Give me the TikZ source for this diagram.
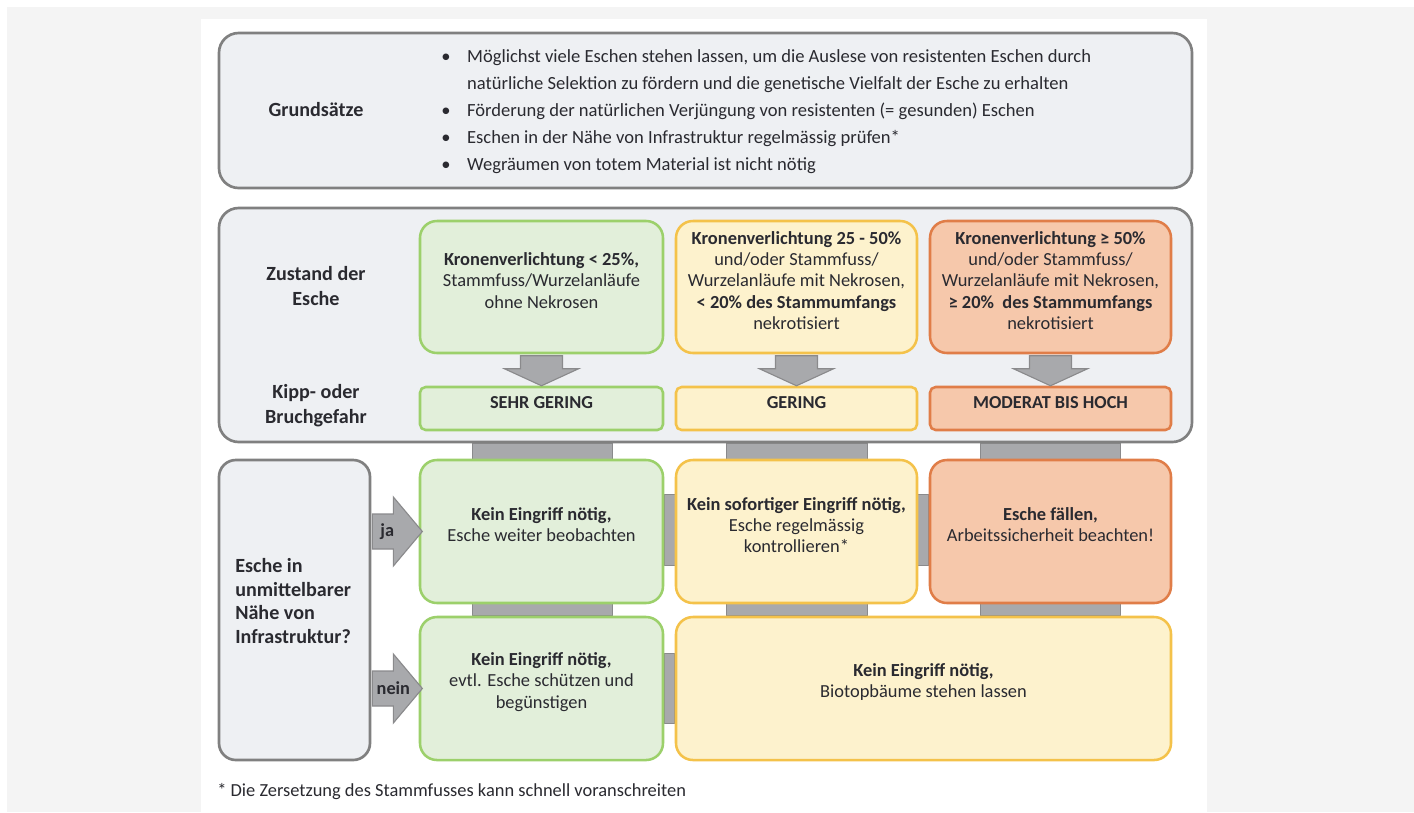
\documentclass[tikz,border=0pt]{standalone}
\usepackage{fontspec}
\setmainfont{Carlito}
\usetikzlibrary{fit, calc, backgrounds}
\definecolor{bggray}{HTML}{F4F4F4}
\definecolor{panelgray}{HTML}{EEF0F3}
\definecolor{framegray}{HTML}{808080}
\definecolor{greenfill}{HTML}{E2EFDA}
\definecolor{greenline}{HTML}{9CD06B}
\definecolor{yellowfill}{HTML}{FDF2CD}
\definecolor{yellowline}{HTML}{F4C24A}
\definecolor{redfill}{HTML}{F6C8AB}
\definecolor{redline}{HTML}{E07D48}
\definecolor{bargray}{HTML}{A8A9AC}
\definecolor{arrowline}{HTML}{8A8A8C}
\definecolor{inkgray}{HTML}{2A2A30}
\tikzstyle{bigframe} = [rectangle, rounded corners=14pt, draw=framegray, fill=panelgray, line width=1.9pt, inner sep=0pt]
\tikzstyle{greenbox} = [rectangle, rounded corners=12pt, draw=greenline, fill=greenfill, line width=1.8pt, inner sep=0pt, align=center]
\tikzstyle{yellowbox} = [greenbox, draw=yellowline, fill=yellowfill]
\tikzstyle{redbox} = [greenbox, draw=redline, fill=redfill]
\tikzstyle{riskbox} = [rounded corners=4pt, font=\fontsize{13}{15}\selectfont\bfseries]
\tikzstyle{rowtitle} = [align=center, font=\fontsize{14.3}{17.6}\selectfont\bfseries]
\tikzstyle{bigarrow} = [fill=bargray, draw=arrowline, line width=0.8pt, line join=miter]
\tikzstyle{band} = [fill=bargray, draw=arrowline, line width=0.5pt]

\begin{document}
\begin{tikzpicture}[x=0.025cm, y=-0.025cm, text=inkgray, font=\fontsize{13.1}{15}\selectfont]
\useasboundingbox (0,0) rectangle (1414,812);
% Background and panel
\begin{scope}[on background layer]
\fill[bggray] (7,7) rectangle (1414,812);
\fill[white] (201,19) rectangle (1207,812);
\end{scope}

% Placement of frames
\node (rules) [bigframe, fit={(219,33) (1192,188)}] {};
\node (state) [bigframe, fit={(219,208) (1192,442)}] {};
\node (ask) [bigframe, rounded corners=12pt, fit={(219,460) (370,760)}] {};

% Row titles
\node (rulesTitle) [rowtitle] at (316,110) {Grundsätze};
\node (stateTitle) [rowtitle] at (316,286) {Zustand der\\Esche};
\node (riskTitle) [rowtitle] at (316,406) {Kipp- oder\\Bruchgefahr};
\node (askTitle) [anchor=west, align=left, inner sep=0pt, font=\fontsize{14.3}{17}\selectfont\bfseries] at (235,601) {Esche in\\unmittelbarer\\Nähe von\\Infrastruktur?};

% Principles
\newcommand\bul{\makebox[18.4pt][l]{\textbullet}}
\newcommand\nobul{\hspace*{18.4pt}}
\node (rulesList) [anchor=west, align=left, inner sep=0pt, font=\fontsize{13.2}{19.3}\selectfont] at (441,111.5) {\bul Möglichst viele Eschen stehen lassen, um die Auslese von resistenten Eschen durch\\
\nobul natürliche Selektion zu fördern und die genetische Vielfalt der Esche zu erhalten\\
\bul Förderung der natürlichen Verjüngung von resistenten (= gesunden) Eschen\\
\bul Eschen in der Nähe von Infrastruktur regelmässig prüfen*\\
\bul Wegräumen von totem Material ist nicht nötig};

% Condition of the tree
\node (cond1) [greenbox, fit={(420,221) (663,353)}] {\textbf{Kronenverlichtung < 25\%,}\\Stammfuss/Wurzelanläufe\\ohne Nekrosen};
\node (cond2) [yellowbox, fit={(676,221) (917,353)}] {\textbf{Kronenverlichtung 25 - 50\%}\\und/oder Stammfuss/\\Wurzelanläufe mit Nekrosen,\\\textbf{< 20\% des Stammumfangs}\\nekrotisiert};
\node (cond3) [redbox, fit={(930,221) (1171,353)}] {\textbf{Kronenverlichtung ≥ 50\%}\\und/oder Stammfuss/\\Wurzelanläufe mit Nekrosen,\\\textbf{≥ 20\%\ \ des Stammumfangs}\\nekrotisiert};

% Risk of tipping or breaking
\node (risk1) [greenbox, riskbox, fit={(420,387) (663,430)}] {SEHR GERING};
\node (risk2) [yellowbox, riskbox, fit={(676,387) (917,430)}] {GERING};
\node (risk3) [redbox, riskbox, fit={(930,387) (1171,430)}] {MODERAT BIS HOCH};

% Measures
\node (act1a) [greenbox, fit={(420,460) (663,603)}] {\textbf{Kein Eingriff nötig,}\\Esche weiter beobachten};
\node (act1b) [yellowbox, fit={(676,460) (917,603)}] {\textbf{Kein sofortiger Eingriff nötig,}\\Esche regelmässig\\kontrollieren*};
\node (act1c) [redbox, fit={(930,460) (1171,603)}] {\textbf{Esche fällen,}\\Arbeitssicherheit beachten!};
\node (act2a) [greenbox, fit={(420,617) (663,760)}] {\textbf{Kein Eingriff nötig,}\\evtl. Esche schützen und\\begünstigen};
\node (act2b) [yellowbox, fit={(676,617) (1171,760)}] {\textbf{Kein Eingriff nötig,}\\Biotopbäume stehen lassen};

% Footnote
\node (note) [anchor=west, inner sep=0pt] at (217,792) {* Die Zersetzung des Stammfusses kann schnell voranschreiten};

% Gray bands behind the measures
\begin{scope}[on background layer]
\draw[band] ($(risk1 |- state.south)+(-69,0)$) rectangle ($(act2a.north)+(71,0)$);
\draw[band] ($(risk2 |- state.south)+(-70,0)$) rectangle ($(risk2 |- act2b.north)+(71,0)$);
\draw[band] ($(risk3 |- state.south)+(-70,0)$) rectangle ($(risk3 |- act2b.north)+(70,0)$);
\draw[band] ($(act1a.east)+(0,-37)$) rectangle ($(act1c.west)+(0,34)$);
\draw[band] ($(act2a.east)+(0,-35)$) rectangle ($(act2b.west)+(0,35)$);
\end{scope}

% Down arrows
\draw[bigarrow] (cond1.south) ++(-21,1.5) -- ++(0,13) -- ++(-16,0) -- ++(37,17) -- ++(37,-17) -- ++(-16,0) -- ++(0,-13) -- cycle;
\draw[bigarrow] (cond2.south) ++(-21,1.5) -- ++(0,13) -- ++(-16,0) -- ++(37,17) -- ++(37,-17) -- ++(-16,0) -- ++(0,-13) -- cycle;
\draw[bigarrow] (cond3.south) ++(-21,1.5) -- ++(0,13) -- ++(-16,0) -- ++(37,17) -- ++(37,-17) -- ++(-16,0) -- ++(0,-13) -- cycle;

% Yes / no arrows
\draw[bigarrow] (ask.east |- act1a.west) ++(1,-17.5) -- ++(21,0) -- ++(0,-17) -- ++(29,34.5) -- ++(-29,34.5) -- ++(0,-17) -- ++(-21,0) -- cycle;
\draw[bigarrow] (ask.east |- act2a.west) ++(1,-17.5) -- ++(21,0) -- ++(0,-17) -- ++(29,34.5) -- ++(-29,34.5) -- ++(0,-17) -- ++(-21,0) -- cycle;
\node (yes) [font=\fontsize{13}{15}\selectfont\bfseries] at ($(ask.east |- act1a.west)+(16,0)$) {ja};
\node (no) [font=\fontsize{13}{15}\selectfont\bfseries] at ($(ask.east |- act2a.west)+(22,0)$) {nein};
\end{tikzpicture}
\end{document}
